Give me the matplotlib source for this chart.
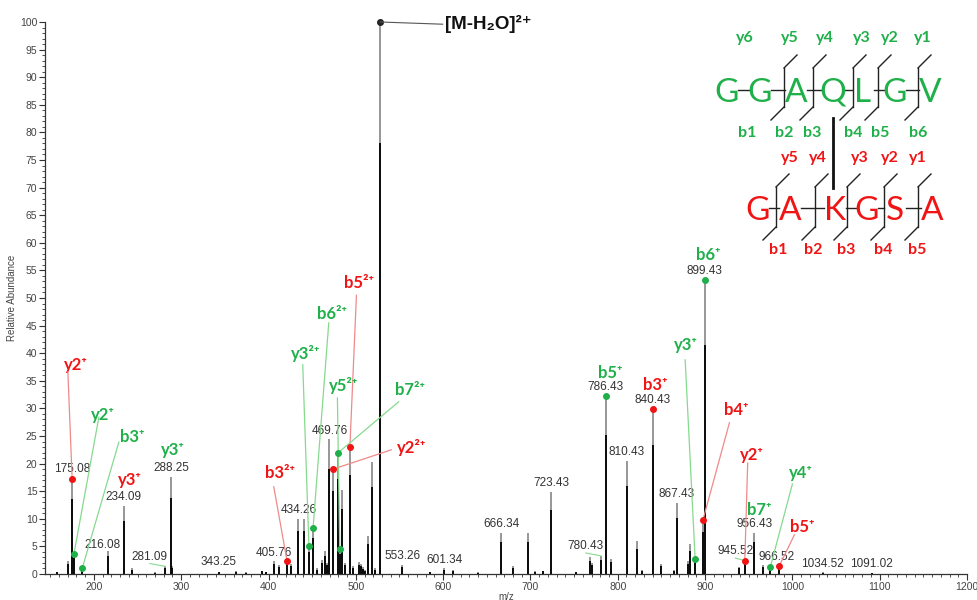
import matplotlib
matplotlib.use('Agg')
import matplotlib.pyplot as plt
from matplotlib.ticker import MultipleLocator

plt.rcParams['font.family'] = ['Liberation Sans', 'DejaVu Sans']

# spectrum sticks (m/z, relative abundance)
mz = [157.3, 170.6, 175.08, 177.1, 186.6, 216.08, 234.09, 243.1, 269.8, 281.09,
      288.25, 289.6, 343.25, 362.5, 374.0, 392.0, 397.6, 405.76, 412.1, 421.2,
      425.5, 434.26, 441.0, 446.3, 451.0, 456.0, 461.3, 464.4, 467.0, 469.76,
      474.0, 480.0, 481.6, 484.3, 488.0, 493.2, 497.0, 503.7, 505.5, 508.0,
      511.0, 514.0, 519.0, 522.0, 527.8, 553.26, 585.0, 601.34, 611.2, 640.0,
      666.34, 679.9, 697.3, 704.7, 714.2, 723.43, 752.4, 767.7, 770.7, 780.43,
      786.43, 792.5, 810.43, 821.8, 828.0, 840.43, 849.7, 864.2, 867.43, 880.2,
      882.5, 888.6, 897.4, 899.43, 938.5, 945.52, 956.43, 966.52, 974.8, 985.1,
      1034.52, 1091.02]
intensity = [0.4, 2.4, 17.5, 3.8, 1.0, 4.1, 12.3, 1.0, 0.3, 1.4,
             17.6, 1.5, 0.4, 0.5, 0.3, 0.6, 0.4, 2.3, 1.6, 2.4,
             1.9, 10.0, 9.9, 5.0, 8.3, 1.0, 2.5, 4.2, 2.0, 24.4,
             19.2, 22.0, 4.6, 15.2, 2.0, 23.0, 1.5, 2.2, 1.8, 1.2,
             0.8, 6.9, 20.2, 1.0, 100.0, 1.6, 0.4, 1.0, 0.7, 0.3,
             7.5, 1.4, 7.4, 0.5, 0.6, 14.9, 0.4, 3.0, 2.0, 3.3,
             32.2, 2.7, 20.5, 5.9, 0.8, 29.9, 1.9, 0.7, 12.9, 2.4,
             5.4, 2.8, 9.8, 53.3, 1.3, 2.4, 7.5, 1.6, 1.3, 1.5,
             0.3, 0.2]

# peaks with an m/z label
labelled = [175.08, 216.08, 234.09, 281.09, 288.25, 343.25, 405.76, 434.26,
            469.76, 553.26, 601.34, 666.34, 723.43, 780.43, 786.43, 810.43,
            840.43, 867.43, 899.43, 945.52, 956.43, 966.52, 1034.52, 1091.02]

# assigned fragment ions: name, charge, chain (0 = GGAQLGV, 1 = GAKGSA), m/z, abundance
ion_name = ['y2', 'y2', 'b3', 'y3', 'y3', 'b3', 'y3', 'b6', 'b5', 'y5', 'b7', 'y2',
            'b5', 'b3', 'y3', 'b4', 'y2', 'b7', 'y4', 'b5', 'b6']
ion_charge = ['⁺', '⁺', '⁺', '⁺', '⁺', '²⁺', '²⁺', '²⁺', '²⁺', '²⁺', '²⁺', '²⁺',
              '⁺', '⁺', '⁺', '⁺', '⁺', '⁺', '⁺', '⁺', '⁺']
ion_chain = [1, 0, 0, 1, 0, 1, 0, 0, 1, 0, 0, 1, 0, 1, 0, 1, 1, 0, 0, 1, 0]
ion_mz = [175.08, 177.1, 186.6, None, None, 421.2, 446.3, 451.0, 493.2, 481.6, 480.0, 474.0,
          786.43, 840.43, 888.6, 897.4, 945.52, None, 974.8, 985.1, 899.43]
ion_int = [17.3, 3.6, 1.0, None, None, 2.4, 5.0, 8.3, 23.0, 4.6, 22.0, 19.0,
           32.2, 29.9, 2.8, 9.7, 2.4, None, 1.3, 1.5, 53.3]

seq_a = 'GGAQLGV'
seq_b = 'GAKGSA'

# ---- layout (label placement) ----
ion_label_xy = [(179.4, 37.9), (210.3, 28.8), (243.5, 24.8), (241.2, 17.0), (290.4, 22.5),
                (412.9, 18.3), (442.6, 40.0), (472.4, 47.1), (503.3, 52.7), (486.1, 34.1),
                (561.7, 33.3), (563.9, 23.0), (791.7, 36.4), (843.2, 34.2), (877.5, 41.5),
                (935.9, 29.7), (954.2, 21.6), (962.2, 11.6), (1009.2, 18.3), (1011.5, 8.5),
                (903.9, 57.8)]
ion_line_start = [(170.2, 36.6), (205.7, 28.4), (228.6, 23.9), None, None,
                  (406.0, 15.8), (439.2, 37.9), (469.0, 45.5), (500.7, 50.5), (478.9, 31.9),
                  (549.1, 31.2), (540.7, 22.5), None, None, (877.2, 38.8),
                  (927.9, 27.4), (948.8, 20.1), None, (1000.0, 16.3), (1002.3, 7.1),
                  None]
label_shift = {216.08: (-6, 4.2), 281.09: (-17, 2.0), 780.43: (-17, 3.9),
               945.52: (-11, 3.0), 966.52: (15, 2.0), 343.25: (0, 1.1),
               1034.52: (0, 0.7), 1091.02: (0, 0.7)}

GREEN = '#1fb04a'
RED = '#f01414'
chain_color = [GREEN, RED]
line_color = ['#86d98f', '#f08a8a']

fig = plt.figure(figsize=(9.77, 6.0), dpi=100)
ax = fig.add_axes([45 / 977, 26 / 600, 922 / 977, 552 / 600])

ax.vlines(mz, 0, intensity, color='#7a7a7a', lw=1.1)
ax.vlines(mz, 0, [h * 0.78 for h in intensity], color='black', lw=1.3)

ax.set_xlim(144, 1200)
ax.set_ylim(0, 100)
ax.xaxis.set_major_locator(MultipleLocator(100))
ax.xaxis.set_minor_locator(MultipleLocator(10))
ax.yaxis.set_major_locator(MultipleLocator(5))
ax.yaxis.set_minor_locator(MultipleLocator(1))
ax.tick_params(which='major', length=4, width=0.8, color='#333333', labelsize=7.5,
               labelcolor='#444444', pad=1.5)
ax.tick_params(which='minor', length=2, width=0.6, color='#333333')
for s in ['top', 'right']:
    ax.spines[s].set_visible(False)
for s in ['left', 'bottom']:
    ax.spines[s].set_color('#333333')
    ax.spines[s].set_linewidth(0.9)
ax.set_ylabel('Relative Abundance', fontsize=7, color='#444444', labelpad=2)
ax.set_xlabel('m/z', fontsize=7, color='#444444', labelpad=0)

# m/z labels
for v in labelled:
    h = intensity[mz.index(v)]
    dx, ty = label_shift.get(v, (0, h + 0.5))
    ax.text(v + dx, ty, f'{v:.2f}', ha='center', va='bottom', fontsize=8.5,
            color='#333333', clip_on=False)
    if dx != 0 and ty > h + 0.5:
        ax.plot([v + dx, v], [ty - 0.1, h], color='#86d98f', lw=0.8)

# base peak
base_h = max(intensity)
base_mz = mz[intensity.index(base_h)]
ax.plot([base_mz], [base_h], 'o', color='#222222', ms=4, clip_on=False)
ax.plot([base_mz, 599.4], [base_h, 99.6], color='#555555', lw=0.8, clip_on=False)
ax.text(601.7, 99.6, '[M-H₂O]²⁺', ha='left', va='center', fontsize=13.5,
        fontweight='bold', color='#111111', clip_on=False)

# fragment ion annotations
for i in range(len(ion_name)):
    c = chain_color[ion_chain[i]]
    lx, ly = ion_label_xy[i]
    ax.text(lx, ly, ion_name[i] + ion_charge[i], ha='center', va='center',
            fontsize=12, fontweight='bold', color=c,
            family=['Lato', 'DejaVu Sans'], clip_on=False)
    if ion_line_start[i] is not None:
        sx, sy = ion_line_start[i]
        ax.plot([sx, ion_mz[i]], [sy, ion_int[i]], color=line_color[ion_chain[i]],
                lw=0.9, zorder=3)
    if ion_mz[i] is not None:
        ax.plot([ion_mz[i]], [ion_int[i]], 'o', color=c, ms=4, zorder=4, clip_on=False)

# peptide scheme (figure pixel space, y downwards)
ov = fig.add_axes([0, 0, 1, 1])
ov.set_xlim(0, 977)
ov.set_ylim(600, 0)
ov.axis('off')

seq_a_x = [727, 760, 796, 833, 863, 895, 930]
seq_b_x = [758, 790, 835, 867, 895, 932]
cut_a_x = [784, 813, 853, 878, 918]
cut_b_x = [776, 815, 847, 884, 918]
top_a_x = [745, 790, 825, 862, 890, 923]
bot_a_x = [747, 784, 812, 853, 880, 918]
top_b_x = [790, 818, 860, 890, 918]
bot_b_x = [778, 813, 846, 883, 917]

def draw_chain(seq, xs, base, color, cuts, top_y, bot_y):
    mid = base - 12.5
    for a, b in zip(xs[:-1], xs[1:]):
        ov.plot([a + 11, b - 11], [mid, mid], color='#222222', lw=1.0)
    for ch, x in zip(seq, xs):
        ov.text(x, base, ch, ha='center', va='baseline', fontsize=24,
                family='Lato', color=color)
    for x in cuts:
        ov.plot([x, x], [top_y, bot_y], color='#222222', lw=1.0)
        ov.plot([x, x + 13], [top_y, top_y - 13], color='#222222', lw=1.0)
        ov.plot([x, x - 13], [bot_y, bot_y + 13], color='#222222', lw=1.0)

draw_chain(seq_a, seq_a_x, 102, GREEN, cut_a_x, 68, 107)
draw_chain(seq_b, seq_b_x, 220, RED, cut_b_x, 187, 227)
ov.plot([833, 833], [118, 188], color='#111111', lw=2.0)

for k, x in enumerate(top_a_x):
    ov.text(x, 38, f'y{6 - k}', ha='center', va='center', fontsize=11.5,
            fontweight='bold', family='Lato', color=GREEN)
for k, x in enumerate(bot_a_x):
    ov.text(x, 133, f'b{k + 1}', ha='center', va='center', fontsize=11.5,
            fontweight='bold', family='Lato', color=GREEN)
for k, x in enumerate(top_b_x):
    ov.text(x, 158, f'y{5 - k}', ha='center', va='center', fontsize=11.5,
            fontweight='bold', family='Lato', color=RED)
for k, x in enumerate(bot_b_x):
    ov.text(x, 250, f'b{k + 1}', ha='center', va='center', fontsize=11.5,
            fontweight='bold', family='Lato', color=RED)

fig.savefig('out.png', dpi=100)
